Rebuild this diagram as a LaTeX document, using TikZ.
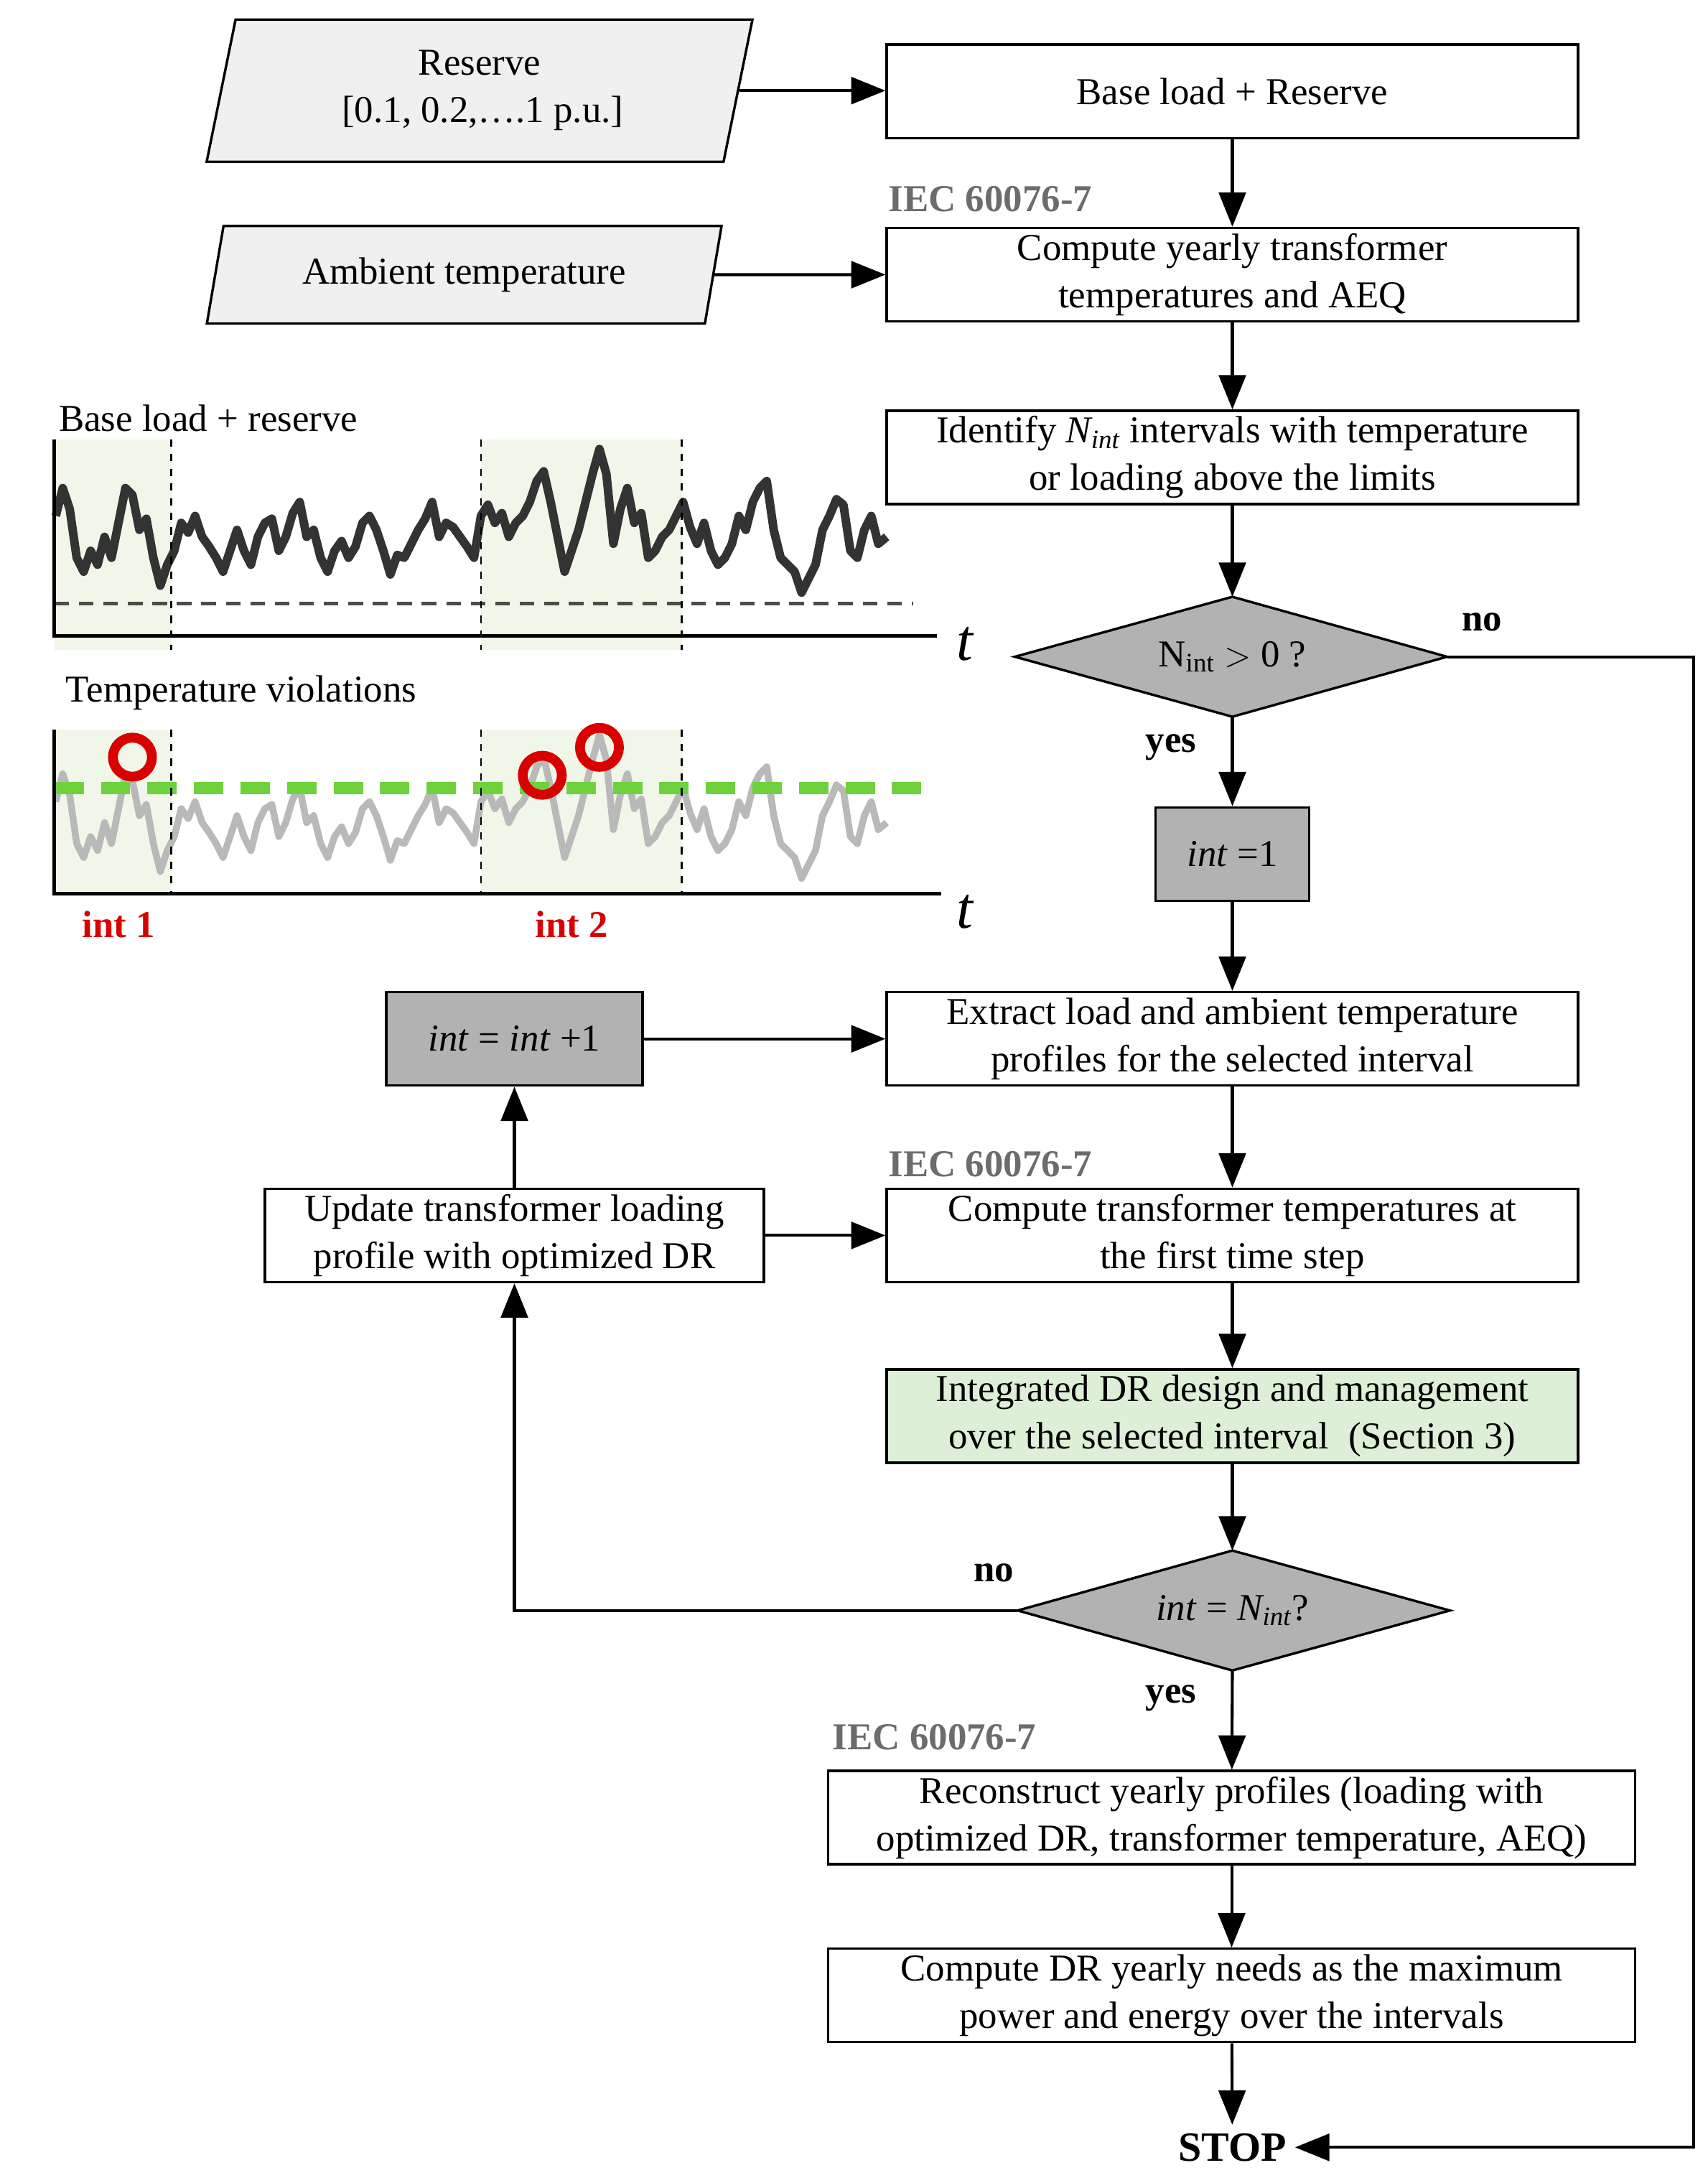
\documentclass[tikz,border=0pt]{standalone}
\usepackage{fontspec}
\setmainfont{Liberation Serif}
\usetikzlibrary{shapes.geometric,arrows.meta}
\begin{document}
\begin{tikzpicture}[x=0.02cm,y=-0.02cm,
  every node/.style={font=\fontsize{15.5}{19.3}\selectfont},
  box/.style={draw,line width=1pt,align=center,minimum width=9.92cm,minimum height=1.34cm,inner sep=2pt},
  gbox/.style={box,fill=gray!60},
  para/.style={draw,line width=1pt,fill=gray!12,trapezium,trapezium stretches=true,align=center,inner sep=0pt},
  diash/.style={draw,line width=1pt,fill=gray!60},
  arr/.style={line width=1.2pt,-{Triangle[length=14pt,width=11pt]}},
  iec/.style={font=\fontsize{15.5}{18}\selectfont\bfseries,text=gray!85!black,anchor=west,inner sep=0pt},
  lbl/.style={font=\fontsize{15.5}{18}\selectfont\bfseries},
  sig/.style={line join=round}]
\useasboundingbox (0,0) rectangle (1225,1562);

% ---------- flow chart ----------
\node[para,minimum width=7.84cm,minimum height=2.04cm,trapezium left angle=78,trapezium right angle=102] (res) at (344,65) {Reserve\\\,[0.1, 0.2,\dots.1 p.u.]};
\node[box] (base) at (884,65.5) {Base load + Reserve};
\node[iec] (iec1) at (637,143) {IEC 60076-7};
\node[para,minimum width=7.4cm,minimum height=1.4cm,trapezium left angle=72,trapezium right angle=108] (amb) at (333,197) {Ambient temperature};
\node[box] (comp1) at (884,197) {Compute yearly transformer\\temperatures and AEQ};
\node[box] (ident) at (884,328) {Identify \textit{N\textsubscript{int}} intervals with temperature\\or loading above the limits};
% diamond 1
\coordinate (d1n) at (884,428); \coordinate (d1s) at (884,514);
\coordinate (d1w) at (728,471); \coordinate (d1e) at (1038,471);
\draw[diash] (d1w) -- (d1n) -- (d1e) -- (d1s) -- cycle;
\node (d1) at (884,471) {N\textsubscript{int} $>$ 0 ?};
\node[lbl] (no1) at (1063,446) {no};
\node[lbl] (yes1) at (840,536) {yes};
\node[gbox,minimum width=2.2cm] (int1) at (884,612.5) {\textit{int} =1};
\node[box] (extr) at (884,745) {Extract load and ambient temperature\\profiles for the selected interval};
\node[gbox,minimum width=3.68cm] (incr) at (369,745) {\textit{int} = \textit{int} +1};
\node[iec] (iec2) at (637,835) {IEC 60076-7};
\node[box] (comp2) at (884,886) {Compute transformer temperatures at\\the first time step};
\node[box,minimum width=7.16cm] (upd) at (369,886) {Update transformer loading\\profile with optimized DR};
\node[box,fill={rgb,255:red,221;green,240;blue,215}] (integ) at (884,1015.5) {Integrated DR design and management\\over the selected interval\ \ (Section 3)};
% diamond 2
\coordinate (d2n) at (884,1112); \coordinate (d2s) at (884,1198);
\coordinate (d2w) at (730,1155); \coordinate (d2e) at (1040,1155);
\draw[diash] (d2w) -- (d2n) -- (d2e) -- (d2s) -- cycle;
\node (d2) at (884,1155) {\textit{int} = \textit{N\textsubscript{int}}?};
\node[lbl] (no2) at (713,1128) {no};
\node[lbl] (yes2) at (840,1218) {yes};
\node[iec] (iec3) at (597,1246) {IEC 60076-7};
\node[box,minimum width=11.58cm] (rec) at (883.5,1303.5) {Reconstruct yearly profiles (loading with\\optimized DR, transformer temperature, AEQ)};
\node[box,minimum width=11.58cm] (dr) at (883.5,1431) {Compute DR yearly needs as the maximum\\power and energy over the intervals};
\node[lbl,font=\fontsize{17}{20}\selectfont\bfseries] (stop) at (884,1540) {STOP};
\coordinate (cr) at (1215,471);

\draw[arr] (res.east) -- (res.east -| base.west);
\draw[arr] (amb.east) -- (comp1.west);
\draw[arr] (base) -- (comp1);
\draw[arr] (comp1) -- (ident);
\draw[arr] (ident) -- (d1n);
\draw[arr] (d1s) -- (int1);
\draw[arr] (int1) -- (extr);
\draw[arr] (extr) -- (comp2);
\draw[arr] (comp2) -- (integ);
\draw[arr] (integ) -- (d2n);
\draw[arr] (d2s) -- (rec);
\draw[arr] (rec) -- (dr);
\draw[arr] (dr) -- (stop);
\draw[arr] (d1e) -- (cr) |- (stop.east);
\draw[arr] (d2w) -| (upd.south);
\draw[arr] (upd) -- (incr);
\draw[arr] (incr) -- (extr);
\draw[arr] (upd) -- (comp2);

% ---------- charts ----------
\def\sigpts{(40,370) (45,350) (50,365) (55,400) (60,410) (65,395) (70,405) (75,385) (80,400) (85,375) (90,350) (95,355) (100,380) (105,372) (110,400) (115,420) (120,405) (125,395) (130,375) (135,382) (140,370) (145,385) (150,392) (155,400) (160,410) (165,395) (170,380) (175,395) (180,405) (185,385) (190,375) (195,372) (200,395) (205,385) (210,368) (215,360) (220,385) (225,380) (230,400) (235,410) (240,395) (245,388) (250,400) (255,392) (260,375) (265,370) (270,380) (275,395) (280,412) (285,398) (290,400) (295,390) (300,380) (305,372) (310,360) (315,385) (320,375) (325,378) (330,385) (335,392) (340,400) (345,370) (350,362) (355,375) (360,368) (365,385) (370,375) (375,370) (380,360) (385,345) (390,338) (395,360) (400,385) (405,410) (410,395) (415,380) (420,360) (425,340) (430,322) (435,340) (440,390) (445,365) (450,350) (455,375) (460,368) (465,400) (470,395) (475,385) (480,380) (485,370) (490,360) (495,378) (500,390) (505,375) (510,395) (515,405) (520,400) (525,390) (530,370) (535,380) (540,360) (545,350) (550,345) (555,380) (560,400) (565,405) (570,410) (575,425) (580,415) (585,405) (590,380) (595,370) (600,358) (605,362) (610,395) (615,400) (620,380) (625,370) (630,390) (636,385)}
\definecolor{bgshade}{RGB}{240,247,232}
\definecolor{lgreen}{RGB}{110,210,60}
% chart 1
\node[anchor=west,inner sep=0pt] (t1) at (42,300) {Base load + reserve};
\fill[bgshade] (39,315) rectangle (123,466);
\fill[bgshade] (345,315) rectangle (489,466);
\draw[sig,line width=3.5pt,gray!40!black] plot coordinates {\sigpts};
\draw[gray!60!black,line width=1.5pt,dash pattern=on 6pt off 4pt] (39,433) -- (655,433);
\foreach \x in {123,345,489} \draw[dashed,line width=0.8pt] (\x,315) -- (\x,466);
\draw[line width=1.5pt] (39,315) -- (39,456) -- (672,456);
\node[font=\fontsize{24}{24}\selectfont\itshape] (ta) at (692,462) {t};
% chart 2
\node[anchor=west,inner sep=0pt] (t2) at (47,497) {Temperature violations};
\fill[bgshade] (39,523) rectangle (123,641);
\fill[bgshade] (345,523) rectangle (489,641);
\begin{scope}[yshift=-4.1cm]
\draw[sig,line width=2.8pt,gray!55] plot coordinates {\sigpts};
\end{scope}
\draw[lgreen,line width=5pt,dash pattern=on 12pt off 7pt] (39,565) -- (672,565);
\foreach \x in {123,345,489} \draw[dashed,line width=0.8pt] (\x,523) -- (\x,641);
\draw[line width=1.5pt] (39,523) -- (39,641) -- (675,641);
\node[font=\fontsize{24}{24}\selectfont\itshape] (tb) at (692,654) {t};
\foreach \x/\y in {95/543,389/556,430/536} \draw[red!85!black,line width=4pt] (\x,\y) circle[radius=14];
\node[lbl,text=red!85!black] (i1) at (85,663) {int 1};
\node[lbl,text=red!85!black] (i2) at (410,663) {int 2};
\end{tikzpicture}
\end{document}
